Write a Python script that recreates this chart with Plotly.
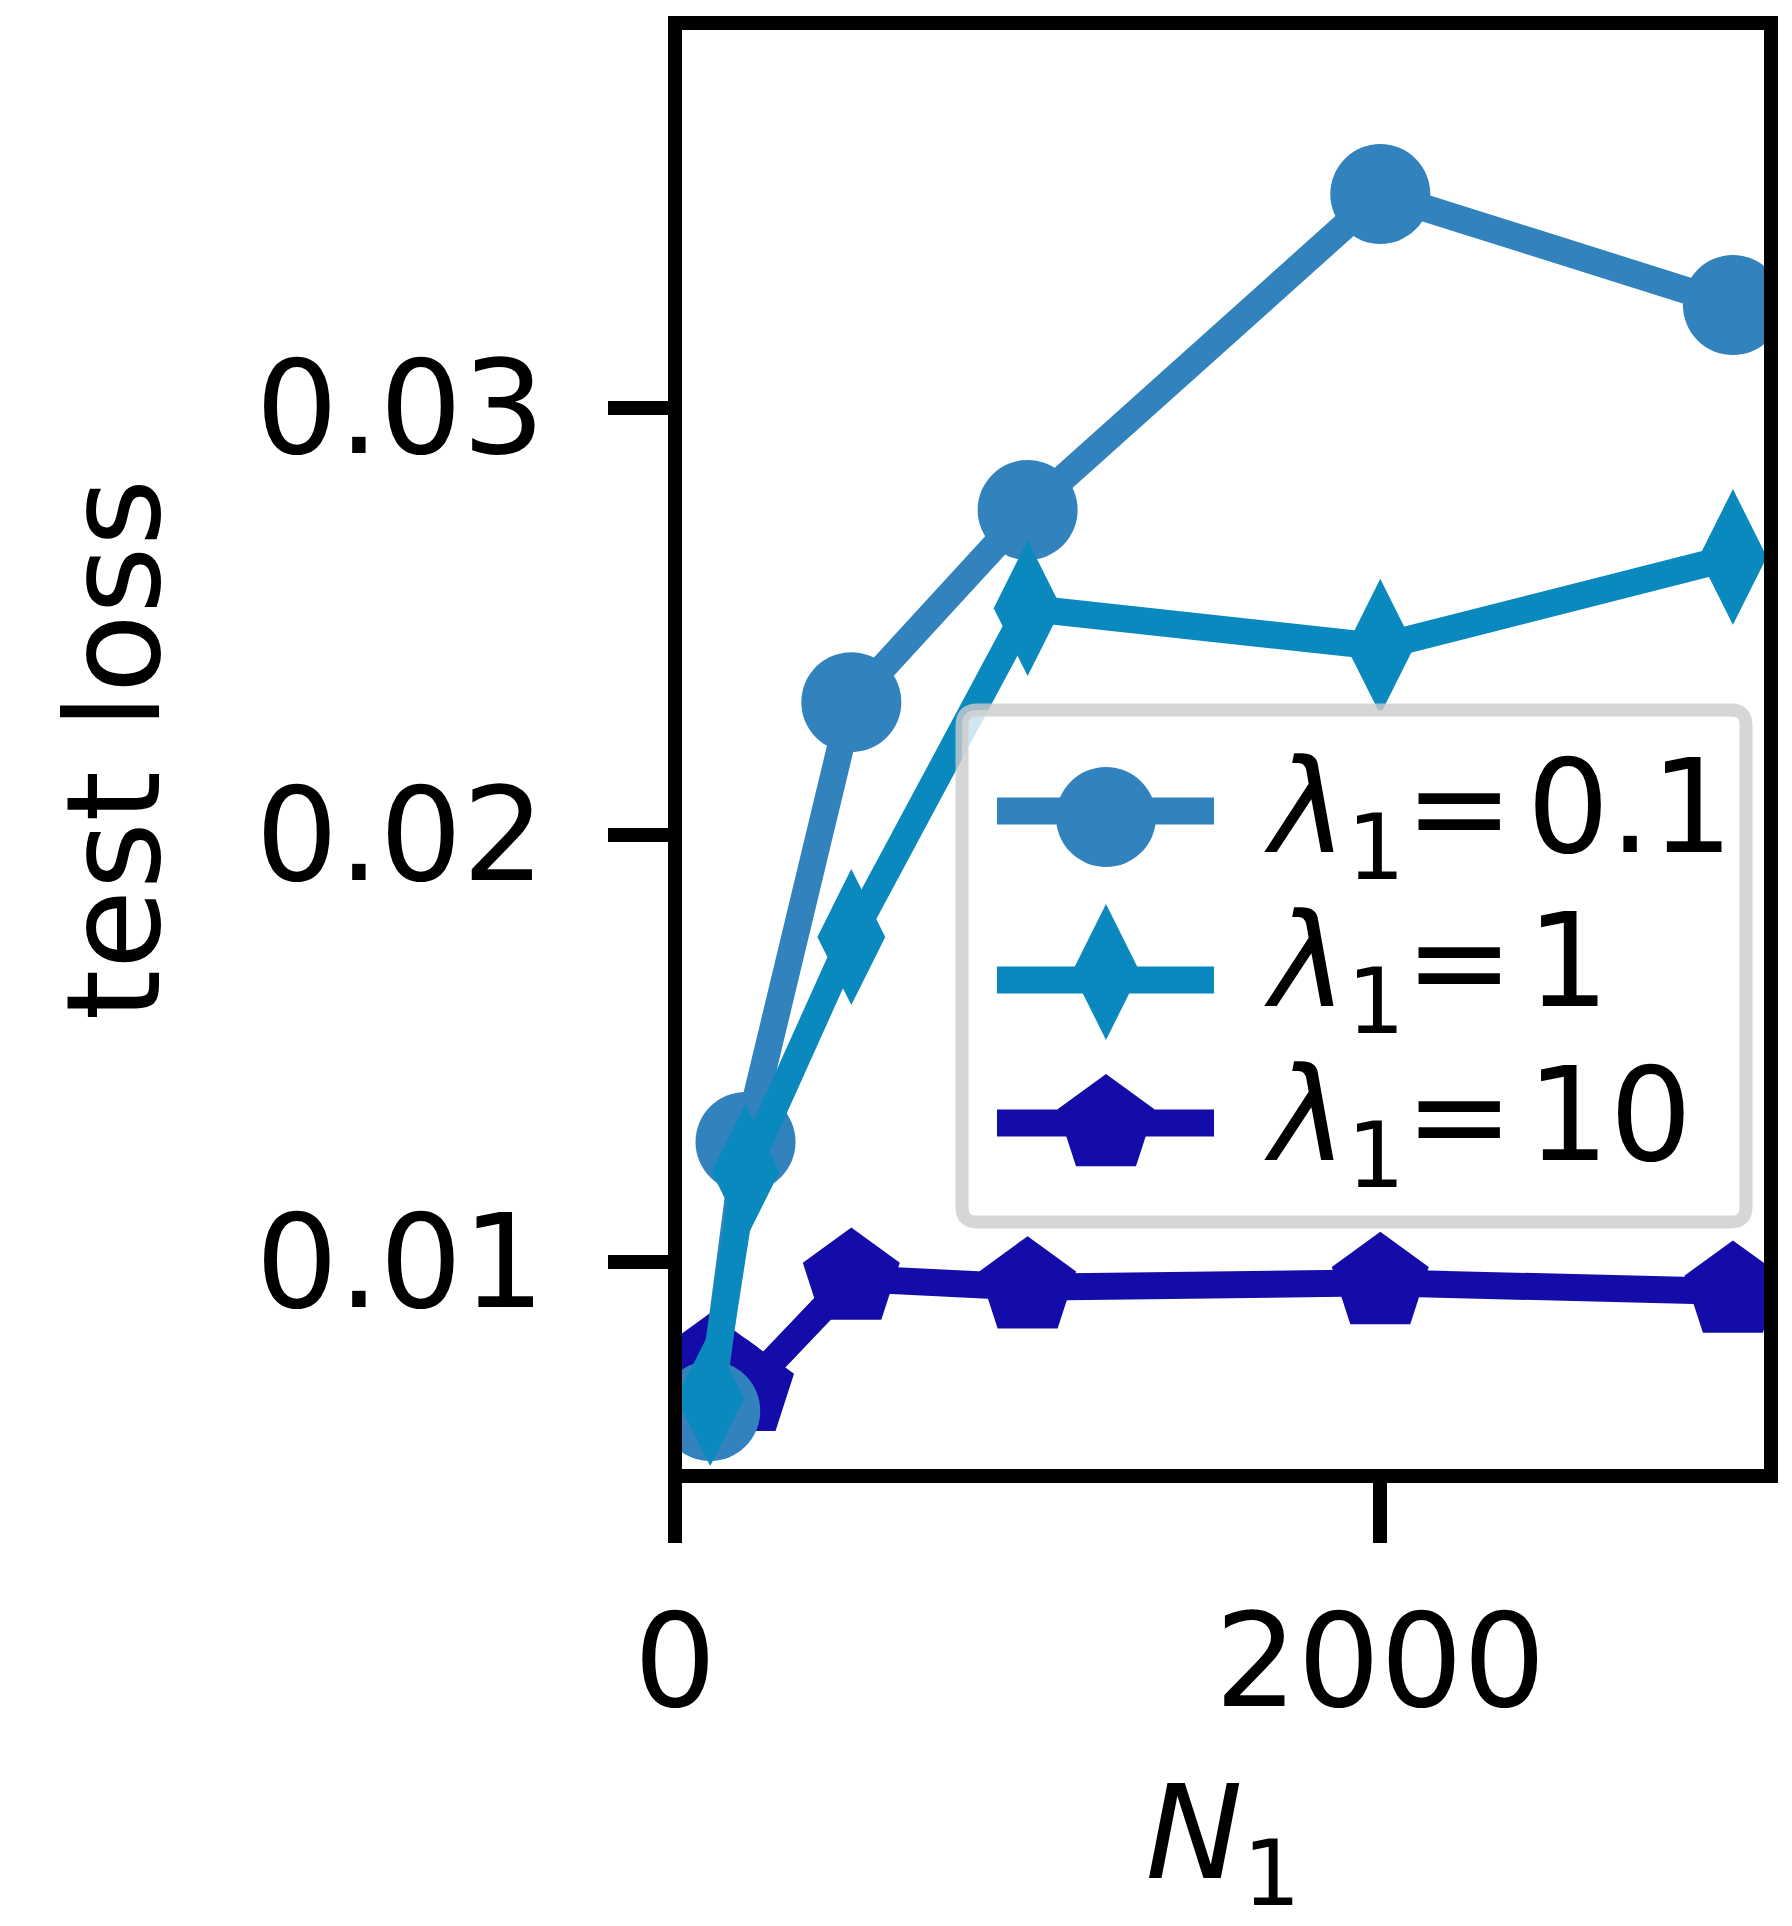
import plotly.graph_objects as go

# ---------------- data ----------------
N1 = [100, 200, 500, 1000, 2000, 3000]
loss_lam01 = [0.0065, 0.0128, 0.0231, 0.0276, 0.0350, 0.0324]
loss_lam1 = [0.0068, 0.0121, 0.0176, 0.0253, 0.0244, 0.0265]
loss_lam10 = [0.0076, 0.0070, 0.0096, 0.0094, 0.0095, 0.0093]

series_labels = ["<i>λ</i><sub>1</sub>=\u200a0.1", "<i>λ</i><sub>1</sub>=\u200a1", "<i>λ</i><sub>1</sub>=\u200a10"]
x_ticks = [0, 2000]
x_tick_labels = ["0", "2000"]
y_ticks = [0.01, 0.02, 0.03]
y_tick_labels = ["0.01", "0.02", "0.03"]

# ---------------- style ----------------
colors = ["#3182bd", "#0a89bf", "#140ca8"]
symbols = ["circle", "diamond-tall", "pentagon"]
msizes = [100, 97, 102]
LW = 27
FONT = "DejaVu Sans"
FS = 130

# page has an 8px body margin; figure sized to fill the rest of the window
OFF = 8
W, H = 1792 - OFF, 1926 - OFF
# plot area (spine centres) in page pixels
PX0, PX1, PY0, PY1 = 675, 1771, 23, 1476
L, R, T, B = PX0 - OFF, W - (PX1 - OFF), PY0 - OFF, H - (PY1 - OFF)

series = [loss_lam01, loss_lam1, loss_lam10]

fig = go.Figure()

# draw order: lambda=10 first, then 0.1, then 1 on top
for i in [2, 0, 1]:
    fig.add_trace(go.Scatter(
        x=N1, y=series[i], mode="lines+markers",
        line=dict(color=colors[i], width=LW),
        marker=dict(symbol=symbols[i], size=msizes[i], color=colors[i], opacity=1, line=dict(width=0)),
        showlegend=False, hoverinfo="skip",
    ))

# ---------------- manual legend (overlay axes in page-pixel units) ----------------
leg_box = dict(x0=962, x1=1746, y0=710, y1=1222, r=15)
handle_line_x = [997, 1214]
handle_marker_x = 1106
handle_line_rows = [811, 980, 1123]
handle_marker_rows = [817, 972, 1125]
text_rows = [815, 969, 1123]
text_x = 1262

b = leg_box
x0, x1, y0, y1, r = b["x0"], b["x1"], b["y0"], b["y1"], b["r"]
path = (f"M{x0+r},{y0} L{x1-r},{y0} Q{x1},{y0} {x1},{y0+r} L{x1},{y1-r} Q{x1},{y1} {x1-r},{y1} "
        f"L{x0+r},{y1} Q{x0},{y1} {x0},{y1-r} L{x0},{y0+r} Q{x0},{y0} {x0+r},{y0} Z")
fig.add_shape(type="path", path=path, xref="x2", yref="y2", layer="below",
              fillcolor="rgba(255,255,255,0.8)", line=dict(color="rgba(204,204,204,0.8)", width=13))

for i in range(3):
    fig.add_trace(go.Scatter(
        x=handle_line_x, y=[handle_line_rows[i]] * 2, mode="lines",
        line=dict(color=colors[i], width=LW),
        xaxis="x2", yaxis="y2", showlegend=False, hoverinfo="skip",
    ))
    fig.add_trace(go.Scatter(
        x=[handle_marker_x], y=[handle_marker_rows[i]], mode="markers",
        marker=dict(symbol=symbols[i], size=msizes[i], color=colors[i], opacity=1, line=dict(width=0)),
        xaxis="x2", yaxis="y2", showlegend=False, hoverinfo="skip",
    ))
    fig.add_annotation(
        x=text_x, y=text_rows[i], xref="x2", yref="y2",
        text=series_labels[i], showarrow=False, xanchor="left", yanchor="middle",
        font=dict(family=FONT, size=FS, color="black"),
    )

# spines centred on the plot-area edges (matplotlib style)
fig.add_shape(type="rect", xref="paper", yref="paper", x0=0, x1=1, y0=0, y1=1,
              layer="above", line=dict(color="black", width=14), fillcolor="rgba(0,0,0,0)")

axis_common = dict(
    showline=False, ticks="outside", ticklen=66, tickwidth=14, tickcolor="black",
    showgrid=False, zeroline=False, automargin=False,
    tickfont=dict(family=FONT, size=FS, color="black"),
)

fig.update_layout(
    width=W, height=H,
    margin=dict(l=L, r=R, t=T, b=B, pad=0, autoexpand=False),
    paper_bgcolor="white", plot_bgcolor="rgba(0,0,0,0)",
    showlegend=False,
    xaxis=dict(range=[0, 3108], tickvals=x_ticks, ticktext=x_tick_labels,
               title=dict(text="<i>N</i><sub>1</sub>", font=dict(family=FONT, size=FS, color="black"), standoff=138),
               ticklabelstandoff=7, **axis_common),
    yaxis=dict(range=[0.004977, 0.039005], tickvals=y_ticks, ticktext=y_tick_labels,
               title=dict(text="test loss", font=dict(family=FONT, size=FS, color="black"), standoff=52),
               ticklabelstandoff=37, **axis_common),
    xaxis2=dict(domain=[0, 1], anchor="y2", range=[PX0, PX1], visible=False, fixedrange=True),
    yaxis2=dict(domain=[0, 1], anchor="x2", range=[PY1, PY0], visible=False, fixedrange=True),
)

fig.write_html("out.html")
